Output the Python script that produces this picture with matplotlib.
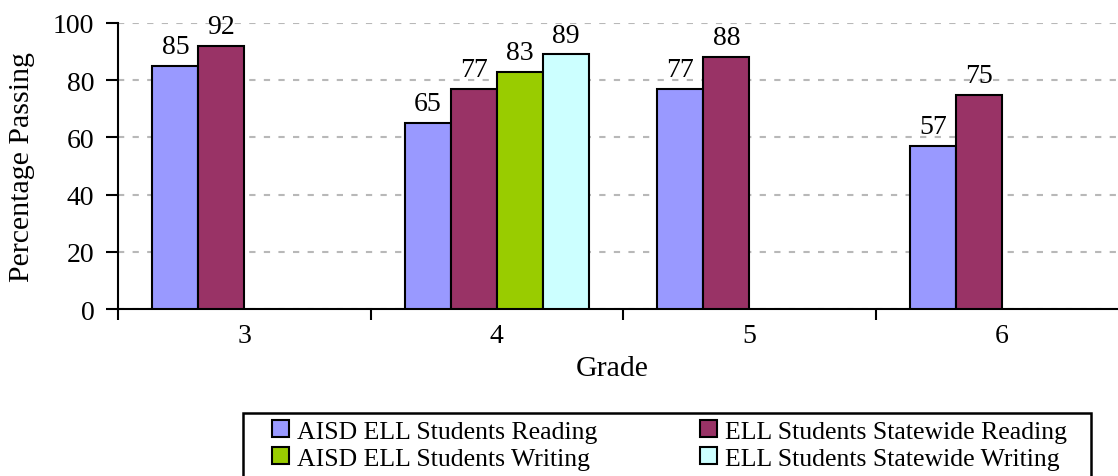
import numpy as np
import matplotlib.pyplot as plt
from matplotlib.patches import Rectangle

grades = ['3', '4', '5', '6']
aisd_reading = [85, 65, 77, 57]
state_reading = [92, 77, 88, 75]
aisd_writing = [np.nan, 83, np.nan, np.nan]
state_writing = [np.nan, 89, np.nan, np.nan]

series = [
    ('AISD ELL Students Reading', aisd_reading, '#9999ff'),
    ('ELL Students Statewide Reading', state_reading, '#993366'),
    ('AISD ELL Students Writing', aisd_writing, '#99cc00'),
    ('ELL Students Statewide Writing', state_writing, '#ccffff'),
]

plt.rcParams['font.family'] = ['Liberation Serif', 'DejaVu Serif']
FS = 20

W, H = 1118, 477
fig = plt.figure(figsize=(W / 100, H / 100), dpi=100)
ax = fig.add_axes([118 / W, 1 - 310 / H, 1010 / W, 286 / H])

x = np.arange(len(grades))
width = 0.182
handles = []
for i, (name, vals, color) in enumerate(series):
    pos = x + (i - 1.5) * width
    bars = ax.bar(pos, vals, width, color=color, edgecolor='black',
                  linewidth=1.5, label=name, zorder=3)
    handles.append(bars)
    for px, v in zip(pos, vals):
        if not np.isnan(v):
            ax.annotate(f'{v:.0f}', (px, v), xytext=(0, 5),
                        textcoords='offset points', ha='center',
                        va='bottom', fontsize=FS, zorder=4,
                        annotation_clip=False)

ax.set_xlim(-0.5, 3.5)
ax.set_ylim(0, 100)
ax.set_yticks(range(0, 101, 20))
ax.set_xticks(x)
ax.set_xticklabels(grades)
ax.set_xticks(np.arange(-0.5, 4, 1), minor=True)
ax.tick_params(axis='x', which='major', length=0, pad=10, labelsize=FS)
ax.tick_params(axis='x', which='minor', length=8, width=1.5, direction='out')
ax.tick_params(axis='y', length=9, width=1.5, direction='out', pad=8,
               labelsize=FS)

ax.yaxis.grid(True, linestyle=(0, (3, 4)), color='#b8b8b8', linewidth=1.5,
              zorder=0)
ax.set_axisbelow(True)
for s in ('top', 'right'):
    ax.spines[s].set_visible(False)
for s in ('left', 'bottom'):
    ax.spines[s].set_linewidth(1.5)

ax.set_ylabel('Percentage Passing', fontsize=21.5)
ax.yaxis.set_label_coords(-0.082, 0.5)
ax.set_xlabel('Grade', fontsize=21.5)
ax.xaxis.set_label_coords((612 - 118) / 1010, -0.16)

# legend fills row by row: reading pair on top, writing pair below
order = [0, 2, 1, 3]
leg = fig.legend(handles=[handles[k] for k in order], loc='upper left',
                 ncol=2, bbox_to_anchor=(272 / W, 1 - 421 / H, 795 / W, 0.0),
                 mode='expand', fontsize=18.5, frameon=False,
                 borderpad=0, borderaxespad=0, handlelength=0.66,
                 handleheight=0.66, handletextpad=0.3, labelspacing=0.17)
for h in leg.legend_handles:
    h.set_linewidth(1.5)

fig.add_artist(Rectangle((243 / W, -0.1), 848 / W, 1 - 414 / H + 0.1,
                         transform=fig.transFigure, fill=False,
                         edgecolor='black', linewidth=1.8, clip_on=False))

fig.savefig('out.png', dpi=100)
